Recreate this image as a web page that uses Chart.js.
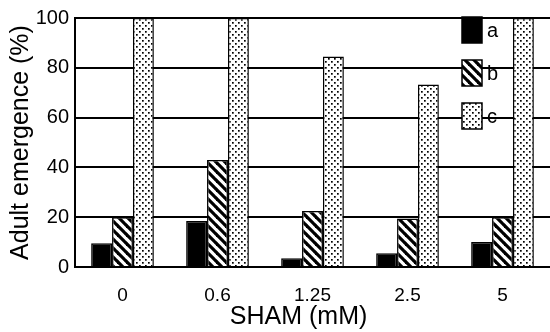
<!DOCTYPE html>
<html>
<head>
<meta charset="utf-8">
<script src="https://cdn.jsdelivr.net/npm/chart.js@4/dist/chart.umd.min.js"></script>
<style>
  html, body { margin: 0; padding: 0; background: #fff; }
  #wrap { width: 550px; height: 332px; }
</style>
</head>
<body>
<div id="wrap"><canvas id="grafico"></canvas></div>
<script>
// dados
const doses = ['0', '0.6', '1.25', '2.5', '5'];
const serieA = [9.5, 18.5, 3.5, 5.5, 10];
const serieB = [20, 43, 22.5, 19.5, 20];
const serieC = [100, 100, 84.5, 73.3, 100];
const nomesSeries = ['a', 'b', 'c'];
const ticksY = [0, 20, 40, 60, 80, 100];

Chart.defaults.font.family = '"Liberation Sans", Arial, sans-serif';
Chart.defaults.color = '#000';

// padrões de preenchimento
function listrado() {
  const c = document.createElement('canvas');
  c.width = 9; c.height = 9;
  const g = c.getContext('2d');
  g.fillStyle = '#fff';
  g.fillRect(0, 0, 9, 9);
  g.strokeStyle = '#000';
  g.lineWidth = 3.2;
  for (let o = -9; o <= 9; o += 9) {
    g.beginPath();
    g.moveTo(o - 1, -1);
    g.lineTo(o + 10, 10);
    g.stroke();
  }
  return g.createPattern(c, 'repeat');
}

function pontilhado() {
  const c = document.createElement('canvas');
  c.width = 6; c.height = 6;
  const g = c.getContext('2d');
  g.fillStyle = '#fff';
  g.fillRect(0, 0, 6, 6);
  g.fillStyle = '#000';
  g.fillRect(1, 1, 1.7, 1.7);
  g.fillRect(4, 4, 1.7, 1.7);
  return g.createPattern(c, 'repeat');
}

const preenchimentos = ['#000', listrado(), pontilhado()];

// legenda desenhada dentro da área do gráfico
const legendaInterna = {
  id: 'legendaInterna',
  afterDatasetsDraw(chart) {
    const ctx = chart.ctx;
    ctx.save();
    ctx.font = '20px "Liberation Sans", Arial, sans-serif';
    ctx.textBaseline = 'middle';
    nomesSeries.forEach((nome, i) => {
      const y = 17 + i * 43;
      ctx.fillStyle = preenchimentos[i];
      ctx.fillRect(462, y, 20, 26);
      ctx.strokeStyle = '#000';
      ctx.lineWidth = 1.5;
      ctx.strokeRect(462, y, 20, 26);
      ctx.fillStyle = '#000';
      ctx.fillText(nome, 487, y + 14);
    });
    ctx.restore();
  }
};

new Chart(document.getElementById('grafico'), {
  type: 'bar',
  data: {
    labels: doses,
    datasets: [serieA, serieB, serieC].map((valores, i) => ({
      label: nomesSeries[i],
      data: valores,
      backgroundColor: preenchimentos[i],
      borderColor: '#000',
      borderWidth: 1.5,
      borderSkipped: 'bottom',
      barPercentage: 1.0,
      categoryPercentage: 0.66
    }))
  },
  options: {
    responsive: true,
    maintainAspectRatio: false,
    animation: false,
    layout: { padding: { top: 15, right: 0, bottom: 0, left: 0 } },
    plugins: {
      legend: { display: false },
      tooltip: { enabled: false }
    },
    scales: {
      x: {
        grid: { display: false, drawTicks: false },
        border: { color: '#000', width: 2 },
        ticks: { font: { size: 19 }, padding: 17 },
        title: {
          display: true,
          text: 'SHAM (mM)\u00A0\u00A0\u00A0\u00A0',
          font: { size: 25 },
          padding: { top: 0, bottom: 0 }
        },
        afterFit(scale) { scale.height = 65; }
      },
      y: {
        min: 0,
        max: 100,
        afterBuildTicks(scale) { scale.ticks = ticksY.map(v => ({ value: v })); },
        grid: { color: '#000', lineWidth: 2, drawTicks: false },
        border: { color: '#000', width: 2 },
        ticks: { font: { size: 20 }, padding: 6 },
        title: {
          display: true,
          text: 'Adult emergence (%)',
          font: { size: 25 },
          padding: { top: 6, bottom: 0 }
        },
        afterFit(scale) { scale.width = 75; }
      }
    }
  },
  plugins: [legendaInterna]
});
</script>
</body>
</html>
